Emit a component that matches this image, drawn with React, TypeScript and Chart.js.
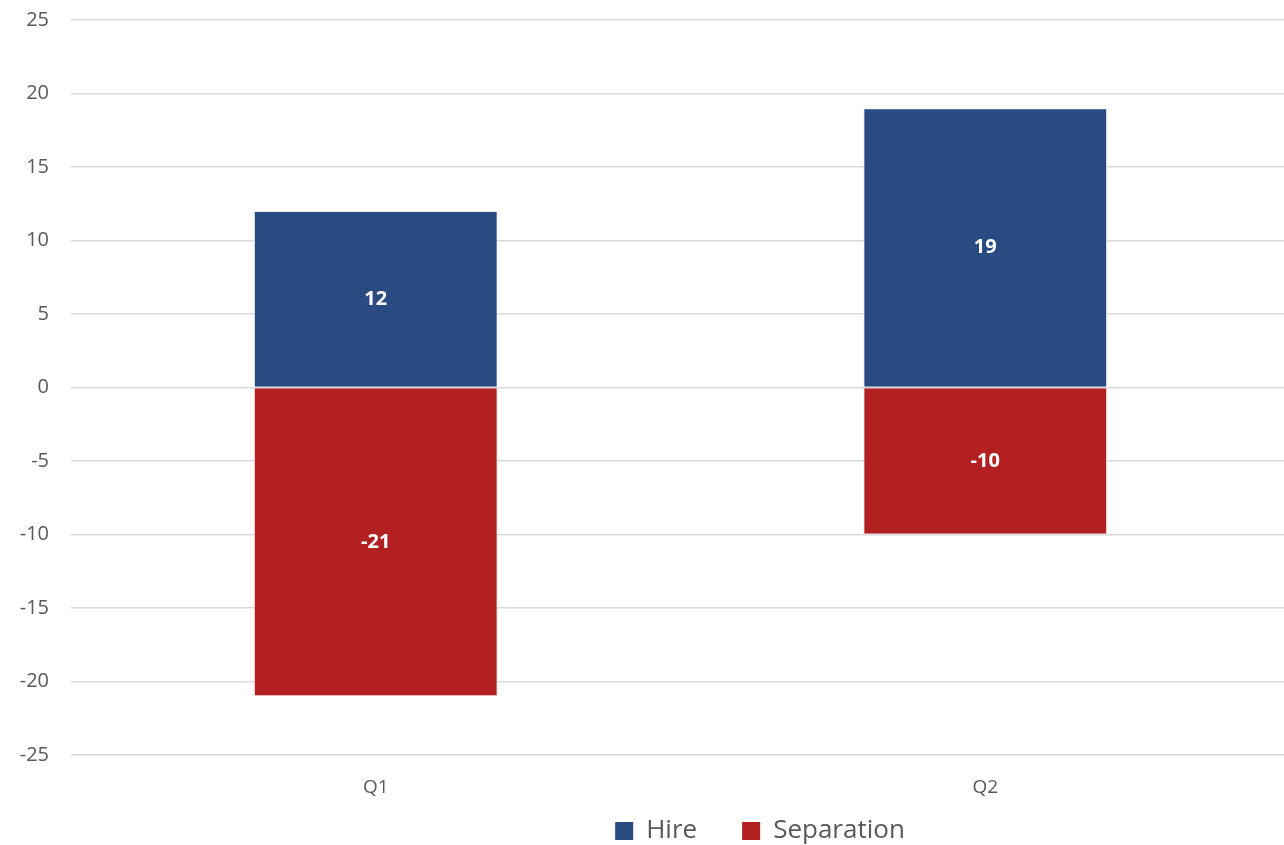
import React, { useEffect, useRef } from "react";
import { Chart, registerables } from "chart.js";

Chart.register(...registerables);

const categories = ["Q1", "Q2"];
const hireValues = [12, 19];
const separationValues = [-21, -10];
const seriesNames = ["Hire", "Separation"];
const seriesColors = ["#2A4A82", "#B22022"];
const FONT = "'Open Sans', sans-serif";

const CANVAS_W = 1290;
const CANVAS_H = 845;

const barLabels = {
  id: "barLabels",
  afterDatasetsDraw(chart: any) {
    const ctx = chart.ctx;
    ctx.save();
    ctx.fillStyle = "#ffffff";
    ctx.font = `bold 20px ${FONT}`;
    ctx.textAlign = "center";
    ctx.textBaseline = "middle";
    chart.data.datasets.forEach((ds: any, i: number) => {
      const meta = chart.getDatasetMeta(i);
      if (meta.hidden) return;
      meta.data.forEach((el: any, j: number) => {
        const { x, y, base } = el.getProps(["x", "y", "base"], true);
        ctx.fillText(String(ds.data[j]), x, (y + base) / 2);
      });
    });
    ctx.restore();
  },
};

const LEGEND_TOP = 773;
const LEGEND_DX = 115;

const legendTweak = {
  id: "legendTweak",
  afterInit(chart: any) {
    const legend = chart.legend;
    if (!legend || legend.__patched) return;
    legend.__patched = true;
    const origFit = legend.fit.bind(legend);
    legend.fit = () => {
      origFit();
      legend.height = 40;
    };
    const origDraw = legend.draw.bind(legend);
    legend.draw = (...args: any[]) => {
      const saved = { top: legend.top, bottom: legend.bottom, left: legend.left, right: legend.right, height: legend.height };
      legend.top = LEGEND_TOP;
      legend.bottom = chart.height;
      legend.height = legend.bottom - legend.top;
      legend.left = saved.left + LEGEND_DX;
      legend.right = saved.right + LEGEND_DX;
      origDraw(...args);
      Object.assign(legend, saved);
    };
  },
};

export default function App() {
  const ref = useRef<HTMLCanvasElement>(null);
  useEffect(() => {
    document.body.style.margin = "0";
    const chart = new Chart(ref.current!, {
      type: "bar",
      data: {
        labels: categories,
        datasets: [
          {
            label: seriesNames[0],
            data: hireValues,
            backgroundColor: seriesColors[0],
            borderColor: "#E8ECF2",
            borderWidth: 1,
            categoryPercentage: 0.8,
            barPercentage: 0.5,
          },
          {
            label: seriesNames[1],
            data: separationValues,
            backgroundColor: seriesColors[1],
            borderColor: "#F2E6E6",
            borderWidth: 1,
            categoryPercentage: 0.8,
            barPercentage: 0.5,
          },
        ],
      },
      options: {
        animation: false,
        responsive: false,
        maintainAspectRatio: false,
        layout: { padding: { top: 20, right: 0, left: 0, bottom: 0 } },
        plugins: {
          tooltip: { enabled: false },
          legend: {
            position: "bottom",
            labels: {
              boxWidth: 18,
              boxHeight: 18,
              padding: 45,
              color: "#595959",
              font: { family: FONT, size: 26 },
              generateLabels: (c: any) =>
                Chart.defaults.plugins.legend.labels.generateLabels(c).map((l: any) => ({
                  ...l,
                  strokeStyle: l.fillStyle,
                  lineWidth: 0,
                })),
            },
          },
        },
        scales: {
          x: {
            stacked: true,
            grid: { display: false, drawTicks: false },
            border: { display: false },
            ticks: { color: "#595959", font: { family: FONT, size: 19 }, padding: 21 },
            afterFit: (s: any) => {
              s.height = 50;
              s.paddingLeft = 0;
              s.paddingRight = 0;
            },
          },
          y: {
            stacked: true,
            min: -25,
            max: 25,
            ticks: { stepSize: 5, color: "#595959", font: { family: FONT, size: 20 }, padding: 22 },
            grid: { color: "#D9D9D9", lineWidth: 1.5, drawTicks: false },
            border: { display: false },
            afterFit: (s: any) => {
              s.width = 71;
              s.paddingTop = 0;
              s.paddingBottom = 0;
            },
          },
        },
      },
      plugins: [barLabels, legendTweak],
    });
    return () => chart.destroy();
  }, []);
  return (
    <div style={{ width: 1284, height: CANVAS_H, overflow: "hidden" }}>
      <canvas ref={ref} width={CANVAS_W} height={CANVAS_H} style={{ width: CANVAS_W, height: CANVAS_H, display: "block" }} />
    </div>
  );
}
